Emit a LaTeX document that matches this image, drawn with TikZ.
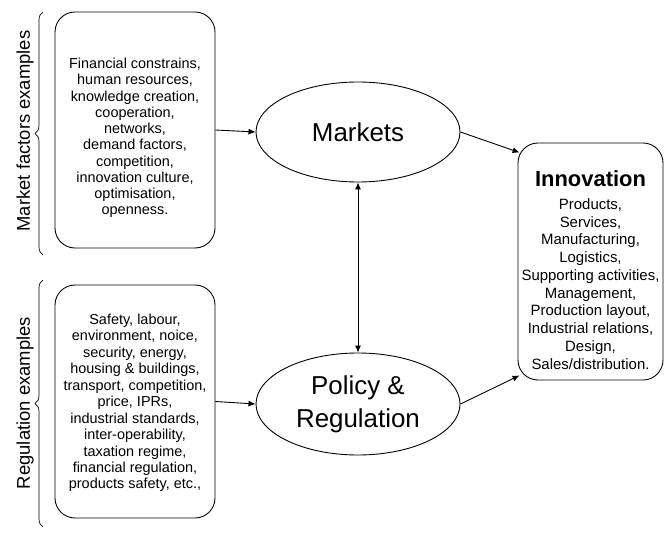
\documentclass[tikz,border=0pt]{standalone}
\usepackage{fontspec}
\setmainfont{Liberation Sans}
\usetikzlibrary{shapes.geometric,arrows.meta,decorations.pathreplacing,calc}
\tikzset{
  factorbox/.style={draw, line width=0.9pt, rounded corners=20bp, inner sep=0pt},
  boxtext/.style={align=center, inner sep=0pt},
  oval/.style={draw, line width=0.9pt, ellipse, inner sep=0pt, align=center, font=\fontsize{26}{33}\selectfont},
  conn/.style={line width=0.9pt, -{Latex[length=7bp,width=6bp]}},
  bconn/.style={line width=0.9pt, {Latex[length=7bp,width=6bp]}-{Latex[length=7bp,width=6bp]}},
  sidebrace/.style={decorate, decoration={brace, amplitude=8bp}, line width=0.7pt},
  sidelabel/.style={rotate=90, font=\fontsize{18.5}{22}\selectfont}
}
\begin{document}
\begin{tikzpicture}[x=1bp,y=-1bp]
\useasboundingbox (0,0) rectangle (668,533);

\node[factorbox, minimum width=160bp, minimum height=236bp] (mf) at (135,130) {};
\node[boxtext, font=\fontsize{14.5}{16.3}\selectfont] (mft) at (135,138)
 {Financial constrains,\\ human resources,\\ knowledge creation,\\ cooperation,\\ networks,\\ demand factors,\\ competition,\\ innovation culture,\\ optimisation,\\ openness.};

\node[factorbox, minimum width=160bp, minimum height=233bp] (rg) at (135,401.5) {};
\node[boxtext, font=\fontsize{14.5}{16.5}\selectfont] (rgt) at (135,403)
 {Safety, labour,\\ environment, noice,\\ security, energy,\\ housing \& buildings,\\ transport, competition,\\ price, IPRs,\\ industrial standards,\\ inter-operability,\\ taxation regime,\\ financial regulation,\\ products safety, etc.,};

\node[oval, minimum width=204bp, minimum height=100bp] (mk) at (358,132) {Markets};
\node[oval, minimum width=204bp, minimum height=102bp] (pr) at (358,404) {Policy \&\\ Regulation};

\node[factorbox, minimum width=145bp, minimum height=237bp] (in) at (590.5,261.5) {};
\node[boxtext, font=\fontsize{15}{17.8}\selectfont] (int) at (590.5,270)
 {{\fontsize{22}{24}\selectfont\bfseries Innovation}\\[5bp] Products,\\ Services,\\ Manufacturing,\\ Logistics,\\ Supporting activities,\\ Management,\\ Production layout,\\ Industrial relations,\\ Design,\\ Sales/distribution.};

\coordinate (inA) at ($(in.north west)+(2,10)$);
\coordinate (inB) at ($(in.south west)+(2,-5)$);

\draw[conn] (mf.east) -- (mk.west);
\draw[conn] (rg.east) -- (pr.west);
\draw[bconn] (mk.south) -- (pr.north);
\draw[conn] (mk.east) -- (inA);
\draw[conn] (pr.east) -- (inB);

\coordinate (b1a) at (43,12);
\coordinate (b1b) at (43,255);
\coordinate (b2a) at (43,280);
\coordinate (b2b) at (43,527);
\draw[sidebrace] (b1b) -- (b1a);
\draw[sidebrace] (b2b) -- (b2a);

\node[sidelabel] (l1) at (25,131) {Market factors examples};
\node[sidelabel] (l2) at (25,403) {Regulation examples};
\end{tikzpicture}
\end{document}
